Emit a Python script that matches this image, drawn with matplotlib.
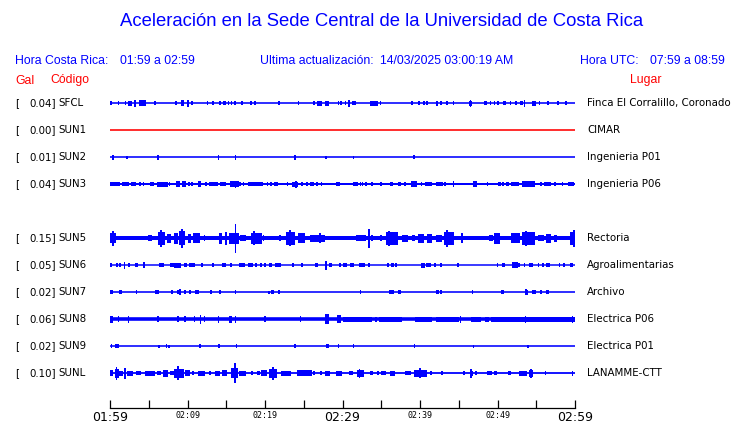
import matplotlib
matplotlib.use("Agg")
import matplotlib.pyplot as plt

# --- data ------------------------------------------------------------------
title = "Aceleración en la Sede Central de la Universidad de Costa Rica"
hora_cr = "01:59 a 02:59"
hora_utc = "07:59 a 08:59"
actualizacion = "14/03/2025 03:00:19 AM"

codes = ["SFCL", "SUN1", "SUN2", "SUN3", "SUN5", "SUN6", "SUN7", "SUN8", "SUN9", "SUNL"]
gal = [0.04, 0.00, 0.01, 0.04, 0.15, 0.05, 0.02, 0.06, 0.02, 0.10]
places = ["Finca El Corralillo, Coronado", "CIMAR", "Ingenieria P01", "Ingenieria P06",
          "Rectoria", "Agroalimentarias", "Archivo", "Electrica P06", "Electrica P01",
          "LANAMME-CTT"]
rows = [0, 1, 2, 3, 5, 6, 7, 8, 9, 10]   # SUN4 lane is empty

tick_minutes = list(range(0, 61, 5))
tick_text = {0: "01:59", 10: "02:09", 20: "02:19", 30: "02:29",
             40: "02:39", 50: "02:49", 60: "02:59"}

# bursts per trace: (start minute, end minute, peak-to-peak height)
sfcl = [(0.1, 0.1, 3), (1.1, 1.1, 3), (2.0, 2.0, 3), (2.3, 2.8, 4), (3.2, 3.2, 5.5),
        (3.8, 4.6, 4.5), (5.8, 5.8, 3), (8.5, 8.5, 3), (9.1, 9.6, 5), (10.1, 10.1, 6),
        (10.6, 10.6, 3), (12.6, 12.6, 3), (13.3, 13.3, 3), (14.0, 14.3, 3), (14.6, 15.0, 3.5),
        (15.3, 15.3, 3), (15.7, 15.7, 3), (16.1, 16.1, 3), (16.9, 17.1, 3.5), (18.2, 18.2, 3),
        (18.7, 18.7, 3), (21.8, 21.8, 3), (24.3, 24.3, 3), (26.3, 26.3, 3), (26.7, 27.3, 4),
        (27.7, 28.2, 4), (29.5, 29.5, 3), (29.8, 29.8, 3), (30.3, 30.5, 3), (30.8, 30.8, 5.5),
        (31.2, 31.8, 3.5), (33.5, 34.6, 4), (34.9, 34.9, 3), (39.0, 39.0, 3), (39.9, 39.9, 3),
        (40.5, 40.5, 3), (40.9, 40.9, 3), (42.1, 42.3, 4), (42.7, 42.7, 3), (43.5, 43.5, 3),
        (44.3, 44.3, 3), (46.3, 46.7, 4), (46.5, 46.5, 5.5), (48.3, 48.7, 3.5), (49.1, 49.1, 3),
        (49.6, 49.6, 3), (50.0, 50.2, 3), (50.7, 51.1, 3.5), (51.7, 51.7, 3), (52.4, 52.4, 3),
        (52.9, 53.3, 3.5), (53.5, 53.5, 6), (54.5, 55.0, 4), (55.4, 55.4, 3), (56.5, 56.5, 3),
        (57.8, 57.8, 3), (58.8, 58.8, 3)]
sun1 = []
sun2 = [(0.4, 0.4, 4), (2.2, 2.2, 2.5), (6.2, 6.2, 4), (14.0, 14.0, 4), (16.2, 16.2, 4),
        (23.9, 23.9, 4), (27.9, 27.9, 2.5), (31.4, 31.4, 2.5), (39.1, 39.4, 3.5)]
sun3 = [(0.0, 1.3, 3.5), (1.6, 2.5, 3), (2.7, 3.4, 3.5), (3.7, 4.0, 3), (4.3, 4.3, 3),
        (5.2, 5.7, 3.5), (6.0, 7.5, 4), (7.7, 7.7, 3), (8.5, 9.0, 5), (9.3, 9.8, 4.5),
        (10.2, 10.2, 3), (10.6, 10.6, 3), (11.4, 11.7, 5), (12.3, 12.5, 3), (12.8, 14.0, 3.5),
        (14.2, 15.0, 3.5), (15.5, 16.6, 4.5), (16.2, 16.2, 5.5), (16.8, 16.8, 3), (17.2, 17.2, 3),
        (17.8, 19.7, 3.5), (20.3, 20.3, 3), (20.8, 20.8, 3), (21.2, 21.7, 3), (22.8, 23.0, 3),
        (23.5, 24.3, 4), (24.0, 24.0, 5.5), (24.8, 24.8, 3), (25.4, 25.4, 3), (25.8, 26.3, 3),
        (26.7, 26.7, 3), (27.3, 27.3, 3), (29.2, 29.7, 3.5), (31.3, 32.0, 3.5), (32.3, 32.3, 3),
        (32.6, 32.6, 3), (33.0, 33.0, 3), (33.8, 33.8, 3), (34.9, 35.1, 3), (36.1, 36.5, 3.5),
        (37.1, 37.5, 3.5), (38.1, 38.1, 3), (38.8, 39.6, 4.5), (40.2, 40.2, 3), (40.6, 41.5, 3.5),
        (42.0, 43.0, 3.5), (43.2, 43.2, 3), (44.2, 44.4, 5), (46.8, 47.4, 5), (48.7, 48.7, 3),
        (50.0, 50.4, 3.5), (50.7, 50.7, 3), (51.1, 51.5, 3.5), (51.7, 52.8, 3.5), (53.2, 54.8, 4.5),
        (55.6, 55.6, 3), (56.0, 56.9, 3.5), (57.3, 57.5, 3), (58.4, 58.4, 3), (59.1, 59.9, 3.5)]
sun5 = [(0.0, 0.75, 8), (0.35, 0.35, 12), (4.9, 5.4, 5), (6.2, 7.1, 10), (6.6, 6.6, 14),
        (7.3, 7.9, 7), (8.3, 8.8, 9), (8.9, 9.7, 11), (9.3, 9.3, 15), (10.0, 10.5, 7),
        (10.7, 11.6, 8), (12.2, 12.2, 5), (14.0, 14.5, 9), (14.8, 15.1, 10), (15.3, 16.6, 9),
        (16.2, 16.2, 23), (16.8, 17.5, 5), (18.2, 19.6, 9), (18.6, 18.6, 11), (19.8, 19.8, 5),
        (21.8, 22.1, 5), (22.7, 23.9, 10), (23.2, 23.2, 13), (24.3, 25.2, 8), (25.8, 27.8, 6),
        (27.1, 27.1, 8), (31.7, 33.0, 5), (33.4, 33.4, 15), (33.8, 33.8, 5), (34.9, 35.1, 5),
        (35.6, 37.1, 10), (36.0, 36.0, 12), (37.7, 38.4, 6), (39.0, 39.4, 5), (39.8, 40.5, 7),
        (40.9, 41.6, 7), (42.0, 42.9, 6), (43.1, 44.4, 10), (43.5, 43.5, 14), (45.3, 45.6, 8),
        (48.9, 49.4, 5), (49.5, 50.3, 9), (51.7, 52.9, 8), (53.2, 54.8, 10), (53.7, 53.7, 12),
        (55.2, 56.0, 5), (56.2, 56.9, 7), (57.3, 57.7, 6), (59.3, 60.0, 10), (59.9, 59.9, 14)]
sun6 = [(0.0, 0.3, 3.5), (0.9, 0.9, 3), (1.3, 1.3, 3), (1.85, 1.85, 6), (2.3, 2.6, 3.5),
        (3.2, 3.6, 3.5), (4.3, 4.5, 5), (6.3, 7.0, 3.5), (7.7, 8.2, 3.5), (8.3, 9.2, 4),
        (9.5, 9.9, 3.5), (10.2, 11.0, 3.5), (11.9, 11.9, 3), (13.3, 13.3, 3), (14.4, 15.0, 3.5),
        (15.6, 15.6, 3), (16.6, 17.4, 3.5), (17.8, 18.4, 3.5), (18.8, 18.8, 3), (19.5, 19.5, 3),
        (20.0, 20.0, 3), (20.5, 20.9, 3), (21.3, 22.0, 3), (23.5, 23.8, 3.5), (24.8, 24.8, 3),
        (26.5, 26.8, 3.5), (27.9, 27.9, 7), (28.2, 28.6, 3.5), (29.5, 29.8, 3.5), (30.1, 30.6, 3.5),
        (31.0, 31.5, 3.5), (32.1, 32.9, 3.5), (33.4, 33.4, 3), (35.9, 35.9, 3), (36.2, 36.6, 3),
        (36.9, 36.9, 3), (40.1, 40.6, 4), (40.8, 41.4, 3.5), (41.8, 42.1, 3.5), (42.7, 42.7, 3),
        (44.9, 44.9, 3), (50.0, 50.0, 3), (50.6, 51.0, 3), (51.9, 52.6, 5), (52.8, 52.8, 3),
        (53.5, 53.5, 3), (54.0, 54.6, 3.5), (55.3, 55.3, 3), (55.9, 55.9, 3), (56.3, 56.8, 3.5),
        (58.0, 58.0, 3), (58.6, 58.6, 3), (59.3, 59.8, 3.5)]
sun7 = [(0.0, 0.45, 3.5), (1.1, 1.5, 3.5), (3.4, 3.4, 3), (5.8, 6.3, 3.5), (8.0, 8.0, 3),
        (8.7, 9.2, 3.5), (9.0, 9.0, 5), (9.7, 9.7, 3), (10.3, 10.3, 3), (11.0, 11.5, 3.5),
        (13.0, 13.0, 3), (14.0, 14.3, 3), (16.2, 16.2, 3), (20.5, 20.5, 2.5), (20.8, 21.1, 3.5),
        (21.8, 21.8, 3), (32.3, 32.3, 3), (36.0, 36.6, 3.5), (37.2, 37.5, 3.5), (42.0, 42.4, 3.5),
        (42.7, 42.7, 3), (46.8, 46.8, 3), (50.4, 50.9, 3.5), (53.5, 53.9, 4), (53.7, 53.7, 5),
        (54.5, 55.0, 3.5), (55.6, 55.6, 3), (56.3, 56.7, 3.5)]
sun8 = [(0.0, 0.45, 5.5), (1.1, 1.1, 5), (2.4, 2.4, 6), (6.2, 6.2, 5), (8.8, 8.8, 5),
        (9.7, 9.7, 5), (10.9, 10.9, 5), (11.7, 11.7, 7), (12.2, 12.2, 5), (14.0, 14.0, 6),
        (15.3, 15.7, 5.5), (16.2, 16.2, 6), (20.0, 20.0, 4.5), (24.6, 24.6, 4.5), (27.8, 28.2, 8),
        (29.3, 29.8, 6.5), (30.0, 33.8, 4), (34.3, 34.3, 4), (34.7, 37.7, 4), (39.4, 41.6, 4),
        (42.0, 45.0, 4), (45.2, 45.2, 5.5), (46.6, 47.9, 4), (48.4, 48.9, 4), (49.2, 60.0, 4),
        (53.6, 53.6, 6), (59.7, 59.7, 5.5)]
sun9 = [(0.2, 0.2, 3), (0.65, 1.1, 3.5), (6.3, 6.3, 2.5), (7.3, 7.3, 3), (7.6, 7.6, 2.5),
        (11.5, 11.7, 3.5), (14.0, 14.2, 3.5), (16.2, 16.4, 3.5), (23.9, 23.9, 3), (27.9, 28.2, 3.5),
        (29.4, 29.6, 3.5), (31.4, 31.4, 3), (39.3, 39.3, 3.5), (46.9, 46.9, 2.5), (53.9, 53.9, 2.5)]
sunl = [(0.0, 0.45, 5), (0.65, 1.1, 7), (0.85, 0.85, 10.5), (1.15, 1.7, 4), (1.9, 1.9, 9),
        (2.15, 3.0, 4), (3.4, 4.0, 3.5), (4.5, 5.8, 4), (6.1, 6.6, 3.5), (6.9, 7.5, 6),
        (7.7, 8.2, 3.5), (8.3, 9.5, 7), (8.8, 8.8, 11), (9.7, 10.3, 5), (10.6, 10.9, 3.5),
        (11.4, 12.2, 4), (12.9, 12.9, 3), (13.5, 14.2, 4), (14.4, 15.1, 5), (15.6, 16.5, 8),
        (16.1, 16.1, 16), (16.7, 17.5, 4), (18.3, 18.3, 3), (19.0, 19.3, 3.5), (19.5, 20.3, 5),
        (20.5, 21.5, 7), (21.0, 21.0, 10), (22.1, 23.3, 4), (24.1, 26.1, 5), (26.3, 26.3, 3),
        (27.1, 27.3, 3.5), (27.8, 28.4, 4), (29.1, 30.0, 4), (30.8, 31.3, 3.5), (31.9, 32.8, 6),
        (32.2, 32.2, 7), (33.5, 33.9, 3.5), (34.6, 34.6, 3), (35.0, 35.6, 3.5), (36.1, 36.8, 4),
        (38.1, 38.8, 3.5), (39.2, 40.9, 6), (40.0, 40.0, 8), (41.4, 41.4, 3), (42.7, 43.0, 3.5),
        (45.7, 45.7, 3), (46.4, 46.8, 4), (46.6, 46.6, 7), (47.2, 47.2, 3), (48.7, 49.3, 3.5),
        (49.6, 50.0, 3.5), (51.3, 51.7, 3.5), (52.8, 53.8, 4), (54.0, 54.6, 6), (54.3, 54.3, 7),
        (56.2, 56.2, 3), (59.7, 59.7, 4)]

bursts = [sfcl, sun1, sun2, sun3, sun5, sun6, sun7, sun8, sun9, sunl]

# --- styling ----------------------------------------------------------------
BLUE = "#0000ff"
RED = "#ff0000"
W, H = 740, 423
LANE = 27.0          # lane spacing, same unit as burst heights
GAIN = 1.25          # visual gain on burst heights
base_px = [1.6, 1.6, 1.6, 2.0, 4.0, 1.5, 1.6, 3.6, 1.6, 1.8]
trace_col = [BLUE, RED, BLUE, BLUE, BLUE, BLUE, BLUE, BLUE, BLUE, BLUE]


def fx(x):
    return x / W


def fy(y):
    return 1 - y / H


fig = plt.figure(figsize=(W / 100, H / 100), dpi=100)
ax = fig.add_axes([fx(110), fy(408), (575 - 110) / W, (408 - 88) / H])
ax.set_xlim(0, 60)
ax.set_ylim(408 - 103.3, 88 - 103.3)

min_w = 1.6 * 60 / 465.0
for r, b, col, lw in zip(rows, bursts, trace_col, base_px):
    yc = r * LANE
    ax.plot([0, 60], [yc, yc], color=col, lw=lw * 0.72, solid_capstyle="butt")
    if b:
        xs = [(t0 + t1) / 2 for t0, t1, h in b]
        ws = [max(t1 - t0, min_w) for t0, t1, h in b]
        hs = [h * GAIN for t0, t1, h in b]
        ax.bar(xs, hs, width=ws, bottom=[yc - h / 2 for h in hs], color=col, linewidth=0)

for s in ["left", "right", "top"]:
    ax.spines[s].set_visible(False)
ax.spines["bottom"].set_linewidth(0.9)
ax.set_yticks([])
ax.set_xticks(tick_minutes)
ax.set_xticklabels([tick_text.get(m, "") for m in tick_minutes])
ax.tick_params(axis="x", direction="in", length=6, width=0.9, pad=2, color="black")
for m, lab in zip(tick_minutes, ax.get_xticklabels()):
    if m in (0, 30, 60):
        lab.set_fontfamily("DejaVu Sans")
        lab.set_fontsize(9)
    else:
        lab.set_fontfamily("DejaVu Sans Mono")
        lab.set_fontsize(6)

# header texts
sans = "Liberation Sans"
fig.text(fx(381.5), fy(22), title, color=BLUE, fontsize=13.3, family=sans, ha="center", va="center")
hy = fy(60.5)
fig.text(fx(15), hy, "Hora Costa Rica:", color=BLUE, fontsize=8.8, family=sans, va="center")
fig.text(fx(120), hy, hora_cr, color=BLUE, fontsize=8.8, family=sans, va="center")
fig.text(fx(260), hy, "Ultima actualización:", color=BLUE, fontsize=8.8, family=sans, va="center")
fig.text(fx(380), hy, actualizacion, color=BLUE, fontsize=8.8, family=sans, va="center")
fig.text(fx(580), hy, "Hora UTC:", color=BLUE, fontsize=8.8, family=sans, va="center")
fig.text(fx(650), hy, hora_utc, color=BLUE, fontsize=8.8, family=sans, va="center")
ry = fy(80.5)
fig.text(fx(15), ry, "Gal", color=RED, fontsize=8.8, family=sans, va="center")
fig.text(fx(50), ry, "Código", color=RED, fontsize=8.8, family=sans, va="center")
fig.text(fx(630), ry, "Lugar", color=RED, fontsize=8.8, family=sans, va="center")

# station labels
for r, c, g, p in zip(rows, codes, gal, places):
    y = fy(103.3 + r * LANE)
    fig.text(fx(15), y, "[", fontsize=7.4, va="center")
    fig.text(fx(56), y, f"{g:.2f}]", fontsize=7.4, va="center", ha="right")
    fig.text(fx(58), y, c, fontsize=7.4, va="center")
    fig.text(fx(587), y, p, fontsize=7.4, va="center")

fig.savefig("out.png", dpi=100)
